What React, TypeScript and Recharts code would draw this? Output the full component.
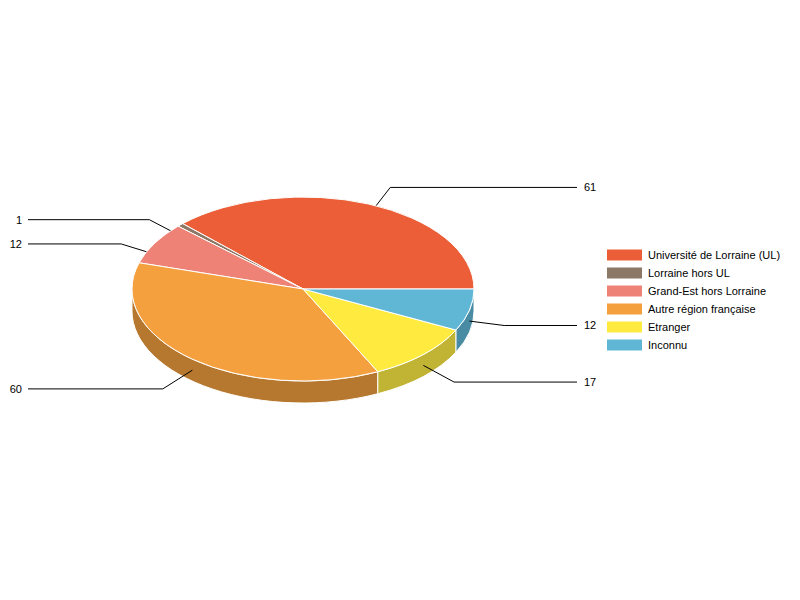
import React from "react";
import { PieChart, Pie, Legend } from "recharts";

const categories = [
  "Université de Lorraine (UL)",
  "Lorraine hors UL",
  "Grand-Est hors Lorraine",
  "Autre région française",
  "Etranger",
  "Inconnu",
];
const counts = [61, 1, 12, 60, 17, 12];
const topColors = ["#EB5E37", "#8C7866", "#EF8276", "#F5A03F", "#FFEB3F", "#60B7D5"];
const wallColors = ["#B0472A", "#69594C", "#B36158", "#B6772E", "#C1B334", "#488BA3"];

const tableData = categories.map((name, i) => ({
  name,
  value: counts[i],
  fill: topColors[i],
  wall: wallColors[i],
}));

const CX = 303;
const CY = 289;
const RX = 171;
const RY = 92;
const DEPTH = 22;
const LINE_LENGTH = 35;
const RIGHT_END = 577;
const LEFT_END = 28;
const FONT = "'Liberation Sans', Arial, sans-serif";

const rad = (d: number) => (d * Math.PI) / 180;
const rim = (a: number) => ({
  x: CX + RX * Math.cos(rad(a)),
  y: CY - RY * Math.sin(rad(a)),
});
const leader = (a: number) => {
  const s = rim(a);
  const dx = s.x - CX;
  const dy = s.y - CY;
  const n = Math.hypot(dx, dy);
  const start = { x: s.x, y: s.y + DEPTH / 2 };
  const elbow = { x: start.x + (dx / n) * LINE_LENGTH, y: start.y + (dy / n) * LINE_LENGTH };
  return { start, elbow, right: dx >= 0 };
};

function topShape(p: any) {
  const s = rim(p.startAngle);
  const e = rim(p.endAngle);
  const large = p.endAngle - p.startAngle > 180 ? 1 : 0;
  const d = `M${CX},${CY}L${s.x},${s.y}A${RX},${RY} 0 ${large} 0 ${e.x},${e.y}Z`;
  return <path d={d} fill={p.fill} stroke="#fff" strokeWidth={1} strokeLinejoin="round" />;
}

function wallShape(p: any) {
  const mid = (p.startAngle + p.endAngle) / 2;
  const a = Math.max(p.startAngle, 180);
  const b = Math.min(p.endAngle, 360);
  let wall = null;
  if (b > a) {
    const s = rim(a);
    const e = rim(b);
    const d = `M${s.x},${s.y}A${RX},${RY} 0 0 0 ${e.x},${e.y}L${e.x},${e.y + DEPTH}A${RX},${RY} 0 0 1 ${s.x},${s.y + DEPTH}Z`;
    wall = <path d={d} fill={p.wall} stroke="#fff" strokeWidth={1} strokeLinejoin="round" />;
  }
  const { start, elbow, right } = leader(mid);
  const end = right ? RIGHT_END : LEFT_END;
  const pts = `${start.x},${start.y} ${elbow.x},${elbow.y} ${end},${elbow.y}`;
  return (
    <g>
      {wall}
      <polyline points={pts} fill="none" stroke="#000" strokeWidth={1} />
    </g>
  );
}

function sliceLabel(p: any) {
  const { elbow, right } = leader(p.midAngle);
  return (
    <text
      x={right ? RIGHT_END + 7 : LEFT_END - 6}
      y={elbow.y}
      textAnchor={right ? "start" : "end"}
      dominantBaseline="central"
      fontFamily={FONT}
      fontSize={11}
      fill="#000"
    >
      {p.value}
    </text>
  );
}

function legendContent({ payload }: any) {
  const items = (payload || []).filter((item: any) => item.type !== "none");
  return (
    <svg width={190} height={112} style={{ display: "block" }}>
      {items.map((item: any, i: number) => (
        <g key={item.value}>
          <rect x={0} y={0.5 + i * 18} width={35} height={11} fill={item.color} />
          <text
            x={41}
            y={6 + i * 18}
            dominantBaseline="central"
            fontFamily={FONT}
            fontSize={11}
            fill="#000"
          >
            {item.value}
          </text>
        </g>
      ))}
    </svg>
  );
}

export default function App() {
  return (
    <div style={{ position: "absolute", left: 0, top: 0, width: 800, height: 600, background: "#fff" }}>
      <PieChart width={800} height={600} margin={{ top: 0, right: 0, bottom: 0, left: 0 }}>
        <Pie
          data={tableData}
          dataKey="value"
          nameKey="name"
          cx={CX}
          cy={CY}
          outerRadius={RX}
          startAngle={0}
          endAngle={360}
          legendType="none"
          shape={wallShape}
          label={false}
          labelLine={false}
          isAnimationActive={false}
        />
        <Pie
          data={tableData}
          dataKey="value"
          nameKey="name"
          cx={CX}
          cy={CY}
          outerRadius={RX}
          startAngle={0}
          endAngle={360}
          shape={topShape}
          label={sliceLabel}
          labelLine={false}
          isAnimationActive={false}
        />
        <Legend
          content={legendContent}
          itemSorter={null}
          wrapperStyle={{ position: "absolute", left: 607, top: 249, width: 190, height: 112 }}
        />
      </PieChart>
    </div>
  );
}
